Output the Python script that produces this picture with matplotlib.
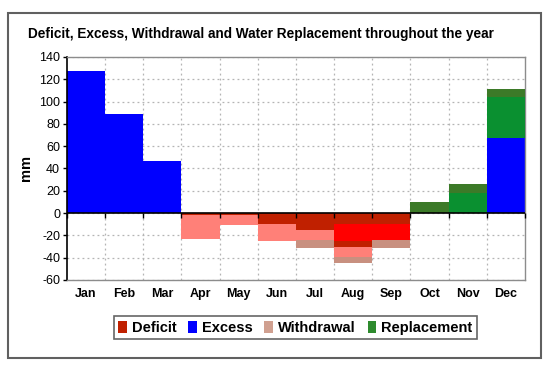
import numpy as np
import matplotlib
matplotlib.use("Agg")
import matplotlib.pyplot as plt
from matplotlib.patches import Rectangle, Patch

plt.rcParams['font.family'] = ['Liberation Sans', 'DejaVu Sans']

months = ['Jan', 'Feb', 'Mar', 'Apr', 'May', 'Jun', 'Jul', 'Aug', 'Sep', 'Oct', 'Nov', 'Dec']

# positive side
excess = [127, 89, 47, 0, 0, 0, 0, 0, 0, 0, 0, 67]
replacement = [0, 0, 0, 0, 0, 0, 0, 0, 0, 10, 26, 44]       # stacked on excess
replacement_core = [0, 0, 0, 0, 0, 0, 0, 0, 0, 0, 18, 37]   # lighter green part

# negative side
withdrawal = [0, 0, 0, -23, -11, -25, -31, -45, -31, 0, 0, 0]
withdrawal_light = [0, 0, 0, -23, -11, -25, -24, -39, -24, 0, 0, 0]
deficit = [0, 0, 0, -2, -2, -10, -15, -30, -10, 0, 0, 0]
deficit_peak_top = [0, 0, 0, 0, 0, 0, 0, -10, -10, 0, 0, 0]
deficit_peak = [0, 0, 0, 0, 0, 0, 0, -25, -24, 0, 0, 0]

yticks = list(range(-60, 141, 20))

c_blue = '#0000FF'
c_dkred = '#C02000'
c_red = '#FF0000'
c_salmon = '#FF8078'
c_tan = '#C89080'
c_dkgreen = '#3C7A28'
c_green = '#0A9030'

fig = plt.figure(figsize=(5.5, 3.71), dpi=100)
ax = fig.add_axes([0.1218, 0.2453, 0.8327, 0.6011])

x = np.arange(len(months))
ex = np.array(excess)
rep = np.array(replacement)
core = np.array(replacement_core)

# withdrawal / deficit layers, back to front
ax.bar(x, withdrawal, width=1.0, color=c_tan, zorder=2)
ax.bar(x, withdrawal_light, width=1.0, color=c_salmon, zorder=3)
ax.bar(x, deficit, width=1.0, color=c_dkred, zorder=4)
dp_top = np.array(deficit_peak_top)
dp = np.array(deficit_peak)
ax.bar(x, dp - dp_top, bottom=dp_top, width=1.0, color=c_red, zorder=5)

# excess and replacement
ax.bar(x, ex, width=1.0, color=c_blue, zorder=2)
ax.bar(x, rep, bottom=ex, width=1.0, color=c_dkgreen, zorder=3)
ax.bar(x, core, bottom=ex, width=1.0, color=c_green, zorder=4)

ax.set_xlim(-0.5, 11.5)
ax.set_ylim(-60, 140)

ax.set_yticks(yticks)
ax.set_yticklabels([str(v) for v in yticks], fontsize=9)
ax.set_xticks(x)
ax.set_xticklabels(months, fontsize=9, fontweight='bold')
ax.tick_params(axis='x', length=0, pad=6)
ax.tick_params(axis='y', length=3, width=1, direction='out', pad=2)

bounds = np.arange(-0.5, 12, 1.0)
ax.set_xticks(bounds[1:-1], minor=True)
ax.tick_params(axis='x', which='minor', length=0)
ax.grid(True, which='minor', axis='x', color='#B4B4B4', linestyle=(0, (1.5, 2.5)), linewidth=0.9, zorder=1)
ax.grid(True, which='major', axis='y', color='#B4B4B4', linestyle=(0, (1.5, 2.5)), linewidth=0.9, zorder=1)
ax.set_axisbelow(True)

# zero line with its little ticks
ax.axhline(0, color='black', linewidth=1.2, zorder=6)
ax.plot(bounds, np.zeros_like(bounds), ls='none', marker=3, ms=3.5, mew=1, color='black', zorder=6,
        clip_on=False)

for side in ['top', 'right', 'bottom']:
    ax.spines[side].set_color('#8C8C8C')
    ax.spines[side].set_linewidth(1)
ax.spines['left'].set_color('black')
ax.spines['left'].set_linewidth(1.2)

ax.set_ylabel('mm', fontsize=10.5, fontweight='bold', labelpad=4)

fig.text(0.4745, 0.908, 'Deficit, Excess, Withdrawal and Water Replacement throughout the year',
         ha='center', va='center', fontsize=9.8, fontweight='bold')

handles = [Patch(facecolor=c_dkred, label='Deficit'),
           Patch(facecolor=c_blue, label='Excess'),
           Patch(facecolor='#D0A090', label='Withdrawal'),
           Patch(facecolor='#2E8B2E', label='Replacement')]
leg = fig.legend(handles=handles, loc='center', bbox_to_anchor=(0.537, 0.117), ncol=4,
                 prop={'weight': 'bold', 'size': 10.5}, frameon=True, fancybox=False,
                 handlelength=0.6, handleheight=0.9, handletextpad=0.35, columnspacing=0.8,
                 borderpad=0.3)
leg.get_frame().set_edgecolor('#404040')
leg.get_frame().set_linewidth(1.2)

fig.patches.append(Rectangle((0.0145, 0.035), 0.969, 0.930, transform=fig.transFigure,
                             fill=False, edgecolor='#606060', linewidth=1.5))

fig.savefig('out.png', dpi=100)
